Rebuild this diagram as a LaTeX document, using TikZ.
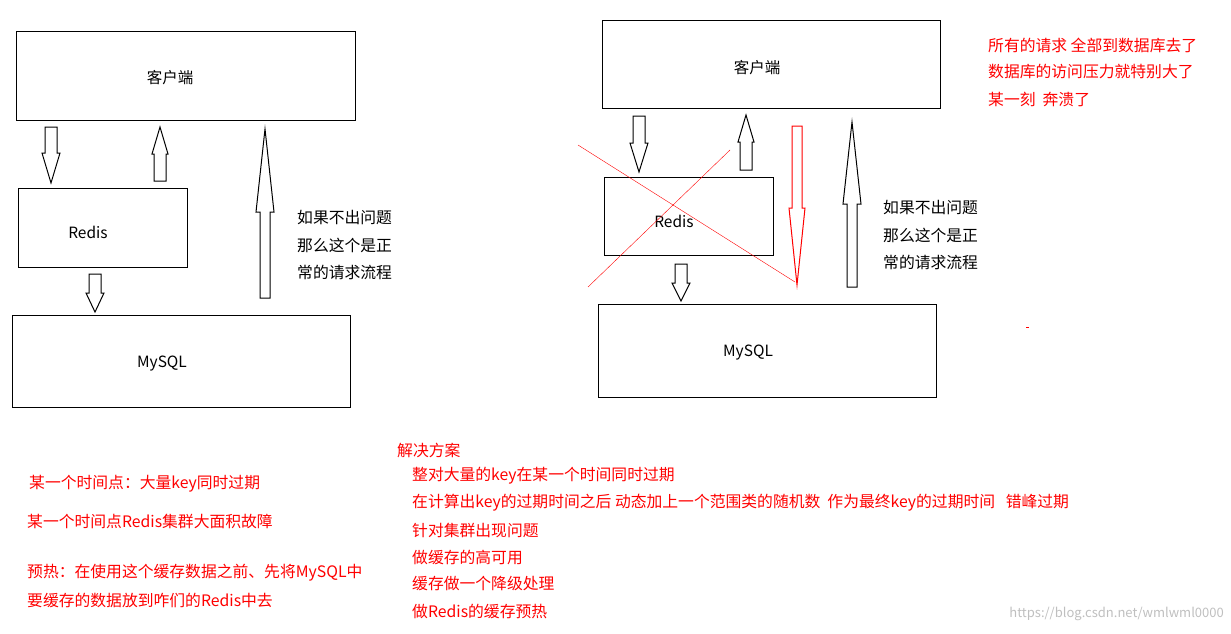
\documentclass[tikz,border=0pt]{standalone}
\usepackage{fontspec}
\setmainfont{Noto Sans CJK SC}
\tikzset{box/.style={draw,line width=1pt,inner sep=0},
 lbl/.style={anchor=west,inner sep=0,font=\fontsize{15.8}{17}\selectfont},
 blbl/.style={inner sep=0,font=\fontsize{15.5}{17}\selectfont},
 rlbl/.style={lbl,text=red},
 harrow/.style={draw,fill=white,line width=1pt,line join=miter}}
% \harr{x}{ytail}{yheadbase}{ytip}{shafthalf}{headhalf}{color}
\newcommand\harr[7]{\draw[harrow,draw=#7] (#1-#5,#2) -- (#1-#5,#3) -- (#1-#6,#3) -- (#1,#4) -- (#1+#6,#3) -- (#1+#5,#3) -- (#1+#5,#2) -- cycle;}
\begin{document}
\begin{tikzpicture}[x=1pt,y=-1pt]
\useasboundingbox (0,0) rectangle (1231,634);
% left
\node[box,minimum width=339,minimum height=88] (c1) at (185.5,76) {};
\node[blbl] (c1l) at (170,78) {客户端};
\node[box,minimum width=169,minimum height=79] (r1) at (102.5,227.5) {};
\node[blbl] (r1l) at (88,232) {Redis};
\node[box,minimum width=338,minimum height=92] (m1) at (181,361) {};
\node[blbl] (m1l) at (162,364) {MySQL};
\harr{51}{127}{153}{183}{6}{9}{black}
\harr{160}{181}{154}{127}{6}{8}{black}
\harr{265}{298}{212}{129}{5}{9}{black}
\harr{95}{274}{293}{312}{6}{9}{black}
\node[lbl] (t1) at (297,218) {如果不出问题};
\node[lbl] (t2) at (297,245) {那么这个是正};
\node[lbl] (t3) at (297,272) {常的请求流程};
% right
\node[box,minimum width=338,minimum height=87] (c2) at (771,64.5) {};
\node[blbl] (c2l) at (757,68) {客户端};
\node[box,minimum width=169,minimum height=78] (r2) at (688.5,216) {};
\node[blbl] (r2l) at (674,221) {Redis};
\node[box,minimum width=338,minimum height=93] (m2) at (767,350.5) {};
\node[blbl] (m2l) at (748,353) {MySQL};
\harr{639}{116}{143}{172}{6}{9}{black}
\harr{746}{170}{142}{115}{6}{8}{black}
\harr{797}{126}{208}{285}{5}{8}{red}
\harr{852}{287}{204}{122}{5}{9}{black}
\harr{681}{264}{283}{301}{6}{9}{black}
\coordinate (x1) at (578,145); \coordinate (x2) at (795,282);
\coordinate (x3) at (588,287); \coordinate (x4) at (730,150);
\draw[red] (x1) -- (x2); \draw[red] (x3) -- (x4);
\node[lbl] (t4) at (883,208) {如果不出问题};
\node[lbl] (t5) at (883,235) {那么这个是正};
\node[lbl] (t6) at (883,262) {常的请求流程};
\node[rlbl] (a1) at (988,45) {所有的请求 全部到数据库去了};
\node[rlbl] (a2) at (988,72) {数据库的访问压力就特别大了};
\node[rlbl] (a3) at (988,99) {某一刻\ \ 奔溃了};
\draw[red,line width=1pt] (1026,327) -- (1029,327);
% bottom
\node[rlbl] (b1) at (29,484) {某一个时间点：大量key同时过期};
\node[rlbl] (b2) at (27,521) {某一个时间点Redis集群大面积故障};
\node[rlbl] (b3) at (27,573) {预热：在使用这个缓存数据之前、先将MySQL中};
\node[rlbl] (b4) at (27,600) {要缓存的数据放到咋们的Redis中去};
\node[rlbl] (s0) at (397,450) {解决方案};
\node[rlbl] (s1) at (412,476) {整对大量的key在某一个时间同时过期};
\node[rlbl] (s2) at (412,503) {在计算出key的过期时间之后 动态加上一个范围类的随机数\ \ 作为最终key的过期时间\ \ \ 错峰过期};
\node[rlbl] (s3) at (412,530) {针对集群出现问题};
\node[rlbl] (s4) at (412,557) {做缓存的高可用};
\node[rlbl] (s5) at (412,584) {缓存做一个降级处理};
\node[rlbl] (s6) at (412,611) {做Redis的缓存预热};
\node[anchor=east,inner sep=0,text=black!25,font=\fontsize{13}{15}\selectfont] (wm) at (1224,614) {https://blog.csdn.net/wmlwml0000};
\end{tikzpicture}
\end{document}
